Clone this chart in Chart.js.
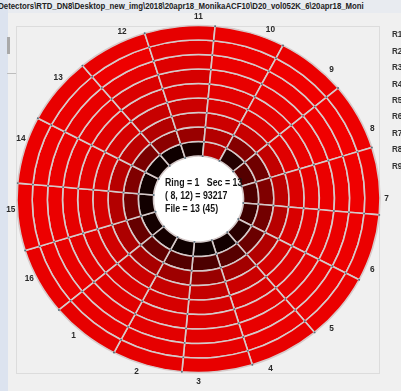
<!DOCTYPE html>
<html>
<head>
<meta charset="utf-8">
<script src="https://cdn.jsdelivr.net/npm/chart.js@4"></script>
<style>
  html, body { margin: 0; padding: 0; }
  body { width: 401px; height: 391px; overflow: hidden; position: relative; background: #f0f0f0; }
  #strip { position: absolute; left: 0; top: 0; width: 8px; height: 391px; background: #dce3ef; }
  #topbar { position: absolute; left: 0; top: 0; width: 401px; height: 13px; background: #e8ebf0; }
  #title { position: absolute; left: -4px; top: 1px; font: bold 9px 'Liberation Sans', Arial, sans-serif; color: #222; white-space: nowrap; line-height: 11px; transform: scaleX(0.867); transform-origin: 0 0; }
  #panel { position: absolute; left: 16px; top: 26px; width: 362px; height: 346px; border: 1px solid #dcdcdc; }
  #grip { position: absolute; left: 7px; top: 37px; width: 3px; height: 17px; background: #a9a9a9; }
  #tick { position: absolute; left: 7px; top: 73px; width: 9px; height: 1px; background: #bdbdbd; }
  #c { position: absolute; left: 0; top: 0; }
</style>
</head>
<body>
<div id="topbar"></div>
<div id="strip"></div>
<div id="title">\Detectors\RTD_DN8\Desktop_new_img\2018\20apr18_MonikaACF10\D20_vol052K_6\20apr18_Moni</div>
<div id="panel"></div>
<div id="grip"></div>
<div id="tick"></div>
<canvas id="c" width="401" height="391"></canvas>
<script>
// Sector numbers and ring names
const sectors = [1, 2, 3, 4, 5, 6, 7, 8, 9, 10, 11, 12, 13, 14, 15, 16];
const ringNames = ['R1', 'R2', 'R3', 'R4', 'R5', 'R6', 'R7', 'R8', 'R9'];

// Counts per ring, listed by sector 1..16 (ring 1 is the innermost)
const ring1 = [8000, 6000, 5000, 7000, 16000, 24000, 30000, 33000, 14000, 70000, 9000, 6000, 5000, 6000, 7000, 8000];
const ring2 = [38000, 33000, 30000, 34000, 42000, 45000, 50000, 44000, 52000, 70000, 60000, 55000, 48000, 50000, 44000, 40000];
const ring3 = [66000, 62000, 60000, 64000, 70000, 72000, 74000, 76000, 78000, 80000, 72000, 70000, 74000, 72000, 70000, 68000];
const ring4 = [80000, 78000, 77000, 80000, 84000, 85000, 86000, 88000, 87000, 86000, 80000, 78000, 84000, 85000, 84000, 82000];
const ring5 = [86000, 84000, 84000, 86000, 88000, 89000, 90000, 91000, 90000, 89000, 85000, 84000, 88000, 89000, 88000, 87000];
const ring6 = [88000, 87000, 87000, 89000, 90000, 91000, 92000, 93000, 92000, 91000, 84000, 86000, 90000, 91000, 90000, 89000];
const ring7 = [90000, 89000, 89000, 91000, 92000, 92000, 93000, 94000, 93000, 92000, 87000, 90000, 91000, 92000, 92000, 91000];
const ring8 = [91000, 90000, 91000, 92000, 93000, 93000, 94000, 95000, 94000, 93000, 89000, 93217, 92000, 93000, 93000, 92000];
const ring9 = [90000, 90000, 91000, 91000, 92000, 92000, 93000, 93000, 92000, 92000, 90000, 91000, 91000, 92000, 92000, 91000];
const rings = [ring1, ring2, ring3, ring4, ring5, ring6, ring7, ring8, ring9];

// Colour scale top end
const scaleMax = 100000;

// Read-out shown in the hub
const hubLines = ['Ring = 1   Sec = 13', '( 8, 12) = 93217', 'File = 13 (45)'];

// Geometry
const SQUEEZE = 0.956;      // vertical squash of the disc
const SECTOR_TILT = -6;     // sector centres sit slightly anticlockwise of their numbers
const STEP = 360 / sectors.length;

// Sector s has its number at (11 - s) steps clockwise from 12 o'clock
function labelAngle(s) { return ((11 - s) * STEP + 360) % 360; }

function heat(v) {
  const r = Math.round(255 * Math.max(0, Math.min(1, v / scaleMax)));
  return 'rgb(' + r + ',0,0)';
}

// Drawn clockwise: 16, 15, ..., 1
const drawOrder = sectors.slice().reverse();
const firstStart = labelAngle(drawOrder[0]) + SECTOR_TILT - STEP / 2;

// Outermost ring first (Chart.js places dataset 0 on the outside)
const datasets = rings.map((vals, i) => ({
  label: ringNames[i],
  data: drawOrder.map(() => 1),
  counts: drawOrder.map(s => vals[s - 1]),
  backgroundColor: drawOrder.map(s => heat(vals[s - 1])),
  borderColor: '#d6caca',
  borderWidth: 1.6
})).reverse();

const FONT = "'Liberation Sans', Arial, sans-serif";

// narrow, bitmap-like lettering
function narrowText(ctx, text, x, y, squeeze) {
  ctx.fillText(text, x, y, ctx.measureText(text).width * squeeze);
}

const discPlugin = {
  id: 'disc',
  beforeDatasetsDraw(chart) {
    const ctx = chart.ctx;
    const hub = chart.getDatasetMeta(chart.data.datasets.length - 1).data[0];
    ctx.save();
    ctx.translate(hub.x, hub.y);
    ctx.scale(1, SQUEEZE);
    ctx.translate(-hub.x, -hub.y);
    ctx.beginPath();
    ctx.arc(hub.x, hub.y, hub.innerRadius, 0, Math.PI * 2);
    ctx.fillStyle = '#ffffff';
    ctx.fill();
  },
  afterDatasetsDraw(chart) {
    const ctx = chart.ctx;
    const n = chart.data.datasets.length;
    // grid nodes where ring edges meet the sector spokes
    ctx.fillStyle = '#56707e';
    for (let d = 0; d < n; d++) {
      const meta = chart.getDatasetMeta(d);
      meta.data.forEach(a => {
        const radii = d === n - 1 ? [a.outerRadius, a.innerRadius] : [a.outerRadius];
        radii.forEach(r => {
          ctx.beginPath();
          ctx.arc(a.x + r * Math.cos(a.startAngle), a.y + r * Math.sin(a.startAngle), 1.0, 0, Math.PI * 2);
          ctx.fill();
        });
      });
    }
    ctx.restore();

    const hub = chart.getDatasetMeta(n - 1).data[0];
    const outer = chart.getDatasetMeta(0).data[0].outerRadius;
    const cx = hub.x, cy = hub.y;

    // sector numbers around the rim
    ctx.fillStyle = '#2a2a2a';
    ctx.font = 'bold 9px ' + FONT;
    ctx.textAlign = 'center';
    ctx.textBaseline = 'middle';
    const rx = outer + 6.5, ry = (outer + 8) * SQUEEZE * 1.01;
    sectors.forEach(s => {
      let a = labelAngle(s);
      if (a > 180 && a < 360) a -= a > 330 ? 1.5 : 3.3;
      const t = a * Math.PI / 180;
      narrowText(ctx, String(s), cx + rx * Math.sin(t), cy - ry * Math.cos(t), 0.92);
    });

    // read-out inside the hub
    ctx.fillStyle = '#141414';
    ctx.font = 'bold 10px ' + FONT;
    ctx.textAlign = 'left';
    hubLines.forEach((line, i) => narrowText(ctx, line, cx - 33.5, cy - 16 + i * 13, 0.88));

    // ring key on the right
    ctx.fillStyle = '#333333';
    ctx.font = 'bold 9px ' + FONT;
    ringNames.forEach((name, i) => narrowText(ctx, name, 392, 35 + i * 16.4, 0.9));
  }
};

new Chart(document.getElementById('c'), {
  type: 'doughnut',
  data: { labels: drawOrder.map(String), datasets },
  options: {
    responsive: false,
    animation: false,
    events: [],
    rotation: firstStart,
    radius: 181.5,
    cutout: '24.8%',
    layout: { padding: { left: 8.5, right: 12.5, top: 9, bottom: 2 } },
    plugins: { legend: { display: false }, tooltip: { enabled: false } }
  },
  plugins: [discPlugin]
});
</script>
</body>
</html>
